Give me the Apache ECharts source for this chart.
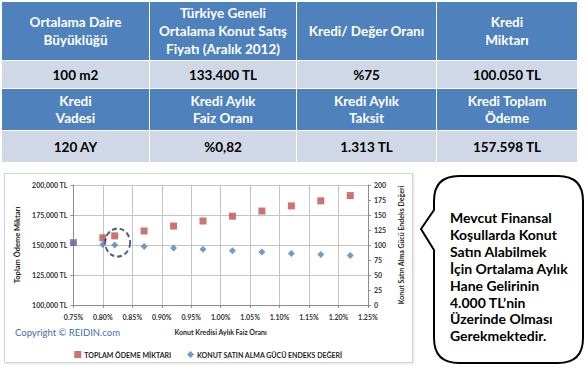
<!DOCTYPE html>
<html>
<head>
<meta charset="utf-8">
<script src="https://cdn.jsdelivr.net/npm/echarts@6/dist/echarts.min.js"></script>
<style>
  html,body{margin:0;padding:0;background:#fff;}
  body{width:588px;height:373px;position:relative;overflow:hidden;font-family:Lato,"Open Sans",sans-serif;}
  #tbl{position:absolute;left:2px;top:2px;width:575px;display:grid;
       grid-template-columns:147px 146px 139px 140px;grid-template-rows:58px 27px 41px 31px;
       gap:1px;background:#fff;}
  .h{background:#4f81bd;color:#fff;font-weight:bold;font-size:13.5px;display:flex;align-items:center;justify-content:center;text-align:center;white-space:pre-line;}
  .h1{line-height:18px;}
  .h2{line-height:17px;}
  .v{background:#d0d8e8;color:#000;font-weight:bold;font-size:13.5px;display:flex;align-items:center;justify-content:center;}
  #chartBox{position:absolute;left:4px;top:173px;width:407px;height:188px;border:1px solid #d4d4d4;box-shadow:1px 1px 2px #e0e0e0;background:#fff;}
  #chart{width:407px;height:188px;}
  #callout{position:absolute;left:0;top:0;width:588px;height:373px;pointer-events:none;}
</style>
</head>
<body>
<div id="tbl"></div>
<div id="chartBox"><div id="chart"></div></div>
<svg id="callout" width="588" height="373"></svg>
<script>
// ---- table data ----
const headRow1 = ['Ortalama Daire\nBüyüklüğü', 'Türkiye Geneli\nOrtalama Konut Satış\nFiyatı (Aralık 2012)', 'Kredi/ Değer Oranı', 'Kredi\nMiktarı'];
const valueRow1 = ['100 m2', '133.400 TL', '%75', '100.050 TL'];
const headRow2 = ['Kredi\nVadesi', 'Kredi Aylık\nFaiz Oranı', 'Kredi Aylık\nTaksit', 'Kredi Toplam\nÖdeme'];
const valueRow2 = ['120 AY', '%0,82', '1.313 TL', '157.598 TL'];

// ---- chart data ----
const rates = [0.75, 0.80, 0.82, 0.87, 0.92, 0.97, 1.02, 1.07, 1.12, 1.17, 1.22];
const totalPayment = [152000, 156000, 157600, 161700, 165800, 170000, 174000, 178300, 182600, 186800, 191200];
const affordIndex = [103.5, 101, 100, 97.5, 95.2, 92.8, 90.6, 88.2, 86, 84.2, 82.4];
const highlight = [[0.825, 152000]];
const seriesNames = ['TOPLAM ÖDEME MİKTARI', 'KONUT SATIN ALMA GÜCÜ ENDEKS DEĞERİ'];

// ---- callout text ----
const calloutLines = ['Mevcut Finansal', 'Koşullarda Konut', 'Satın Alabilmek', 'İçin Ortalama Aylık', 'Hane Gelirinin', '4.000 TL’nin', 'Üzerinde Olması', 'Gerekmektedir.'];

// build table
const tbl = document.getElementById('tbl');
function addRow(arr, cls) {
  arr.forEach(t => { const d = document.createElement('div'); d.className = cls; d.textContent = t; tbl.appendChild(d); });
}
addRow(headRow1, 'h h1');
addRow(valueRow1, 'v');
addRow(headRow2, 'h h2');
addRow(valueRow2, 'v');

// build callout
const svgNS = 'http://www.w3.org/2000/svg';
const svg = document.getElementById('callout');
const path = document.createElementNS(svgNS, 'path');
path.setAttribute('d', 'M459,176 L558,176 Q583,176 583,201 L583,338 Q583,363 558,363 L459,363 Q434,363 434,338 L434,250 L421,229 L434,210 L434,201 Q434,176 459,176 Z');
path.setAttribute('fill', '#fff');
path.setAttribute('stroke', '#000');
path.setAttribute('stroke-width', '2');
svg.appendChild(path);
calloutLines.forEach((t, i) => {
  const tx = document.createElementNS(svgNS, 'text');
  tx.setAttribute('x', 450);
  tx.setAttribute('y', 223 + i * 16.9);
  tx.setAttribute('font-family', 'Lato, sans-serif');
  tx.setAttribute('font-weight', 'bold');
  tx.setAttribute('font-size', '14');
  tx.setAttribute('fill', '#000');
  tx.textContent = t;
  svg.appendChild(tx);
});

// chart
const chart = echarts.init(document.getElementById('chart'), null, {renderer: 'svg'});
const labelStyle = {color: '#333333', fontSize: 7, fontWeight: 'bold', fontFamily: 'Lato'};
const gridColor = '#c4c4c4';
const axisColor = '#8c8c8c';
chart.setOption({
  animation: false,
  grid: {left: 60.6, right: 37.4, top: 11, bottom: 57},
  xAxis: {
    type: 'value', min: 0.75, max: 1.25, interval: 0.05,
    name: 'Konut Kredisi Aylık Faiz Oranı', nameLocation: 'middle', nameGap: 23,
    nameTextStyle: {color: '#262626', fontSize: 7, fontWeight: 'bold', fontFamily: 'Lato'},
    axisLine: {lineStyle: {color: axisColor}},
    axisTick: {show: true, length: 3, lineStyle: {color: axisColor}},
    axisLabel: Object.assign({formatter: v => v.toFixed(2) + '%', margin: 8}, labelStyle),
    splitLine: {show: true, lineStyle: {color: gridColor}}
  },
  yAxis: [{
    type: 'value', min: 100000, max: 200000, interval: 25000,
    name: 'Toplam Ödeme Miktarı', nameLocation: 'middle', nameGap: 50, nameRotate: 90,
    nameTextStyle: {color: '#262626', fontSize: 7.5, fontWeight: 'bold', fontFamily: 'Lato'},
    axisLine: {show: true, lineStyle: {color: axisColor}},
    axisTick: {show: true, length: 3, lineStyle: {color: axisColor}},
    axisLabel: Object.assign({formatter: v => v.toLocaleString('en-US') + ' TL', margin: 6}, labelStyle),
    splitLine: {show: true, lineStyle: {color: gridColor}}
  }, {
    type: 'value', min: 0, max: 200, interval: 25,
    name: 'Konut Satın Alma Gücü Endeks Değeri', nameLocation: 'middle', nameGap: 24, nameRotate: 90,
    nameTextStyle: {color: '#262626', fontSize: 7, fontWeight: 'bold', fontFamily: 'Lato'},
    axisLine: {show: true, lineStyle: {color: axisColor}},
    axisTick: {show: true, length: 3, lineStyle: {color: axisColor}},
    axisLabel: Object.assign({margin: 6}, labelStyle),
    splitLine: {show: false}
  }],
  legend: {
    top: 172, left: 'center', itemWidth: 7, itemHeight: 7, itemGap: 16,
    textStyle: {color: '#262626', fontSize: 7, fontWeight: 'bold', fontFamily: 'Lato', padding: [0, 0, 0, -2]},
    data: [{name: seriesNames[0], icon: 'rect'}, {name: seriesNames[1], icon: 'diamond'}]
  },
  graphic: [{
    type: 'text', left: 10, top: 153,
    style: {text: 'Copyright © REIDIN.com', fill: '#3d6faa', fontSize: 9.5, fontFamily: 'Lato', fontWeight: 'normal'}
  }],
  series: [{
    name: seriesNames[1], type: 'scatter', yAxisIndex: 1, symbol: 'diamond', symbolSize: 7,
    itemStyle: {color: '#4f81bd'}, z: 2,
    data: rates.map((r, i) => [r, affordIndex[i]])
  }, {
    name: seriesNames[0], type: 'scatter', yAxisIndex: 0, symbol: 'rect', symbolSize: 7,
    itemStyle: {color: '#c0504d'}, z: 3,
    data: rates.map((r, i) => i === 0 ? {value: [r, totalPayment[i]], itemStyle: {color: '#6e6e9a'}} : [r, totalPayment[i]])
  }, {
    name: 'highlight', type: 'scatter', yAxisIndex: 0, symbol: 'circle', symbolSize: [25, 28],
    silent: true, z: 4,
    itemStyle: {color: 'rgba(0,0,0,0)', borderColor: '#1f3864', borderWidth: 2, borderType: [5, 3]},
    data: highlight
  }]
});
</script>
</body>
</html>
